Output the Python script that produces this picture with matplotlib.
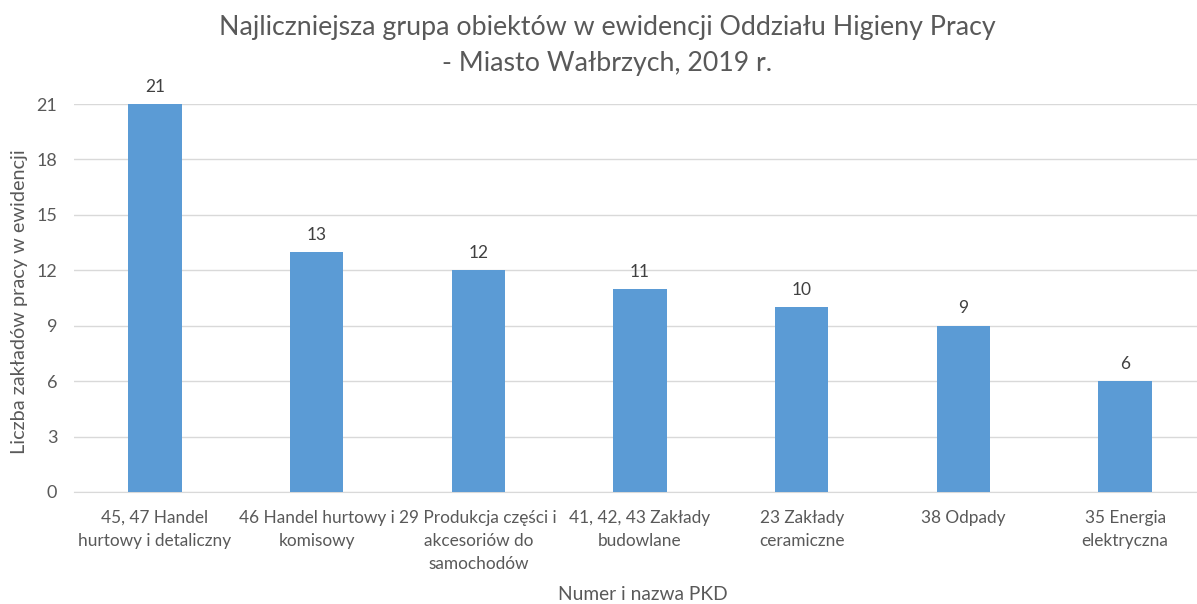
import matplotlib
matplotlib.use("Agg")
import matplotlib.pyplot as plt

categories = [
    "45, 47 Handel\nhurtowy i detaliczny",
    "46 Handel hurtowy i\nkomisowy",
    "29 Produkcja części i\nakcesoriów do\nsamochodów",
    "41, 42, 43 Zakłady\nbudowlane",
    "23 Zakłady\nceramiczne",
    "38 Odpady",
    "35 Energia\nelektryczna",
]
values = [21, 13, 12, 11, 10, 9, 6]
yticks = [0, 3, 6, 9, 12, 15, 18, 21]

plt.rcParams['font.family'] = ['Lato', 'DejaVu Sans']
gray = "#595959"

fig = plt.figure(figsize=(11.97, 6.04), dpi=100)
ax = fig.add_axes([74/1197, 1 - 492/604, 1132/1197, 388/604])

x = list(range(len(categories)))
bars = ax.bar(x, values, width=0.33, color="#5B9BD5", zorder=3)
for xi, v in zip(x, values):
    ax.text(xi, v + 0.5, str(v), ha="center", va="bottom", fontsize=12.5, color="#404040")

ax.set_xlim(-0.5, len(categories) - 0.5)
ax.set_ylim(0, 21)
ax.set_yticks(yticks)
ax.set_yticklabels([str(t) for t in yticks], fontsize=13, color=gray)
ax.set_xticks(x)
ax.set_xticklabels(categories, fontsize=12.4, color=gray, linespacing=1.55)
ax.tick_params(axis="x", length=0, pad=13)
ax.tick_params(axis="y", length=0, pad=12)
ax.grid(axis="y", color="#D9D9D9", linewidth=1, zorder=0)
for s in ["top", "right", "left"]:
    ax.spines[s].set_visible(False)
ax.spines["bottom"].set_color("#D9D9D9")

fig.text(607/1197, 1 - 45/604, "Najliczniejsza grupa obiektów w ewidencji Oddziału Higieny Pracy\n- Miasto Wałbrzych, 2019 r.",
         ha="center", va="center", fontsize=19.3, color=gray, linespacing=1.55)
fig.text(643/1197, 1 - 594/604, "Numer i nazwa PKD", ha="center", va="center", fontsize=13.8, color=gray)
fig.text(20/1197, 1 - 302/604, "Liczba zakładów pracy w ewidencji", ha="center", va="center",
         rotation=90, fontsize=14.3, color=gray)

fig.savefig("out.png", dpi=100)
